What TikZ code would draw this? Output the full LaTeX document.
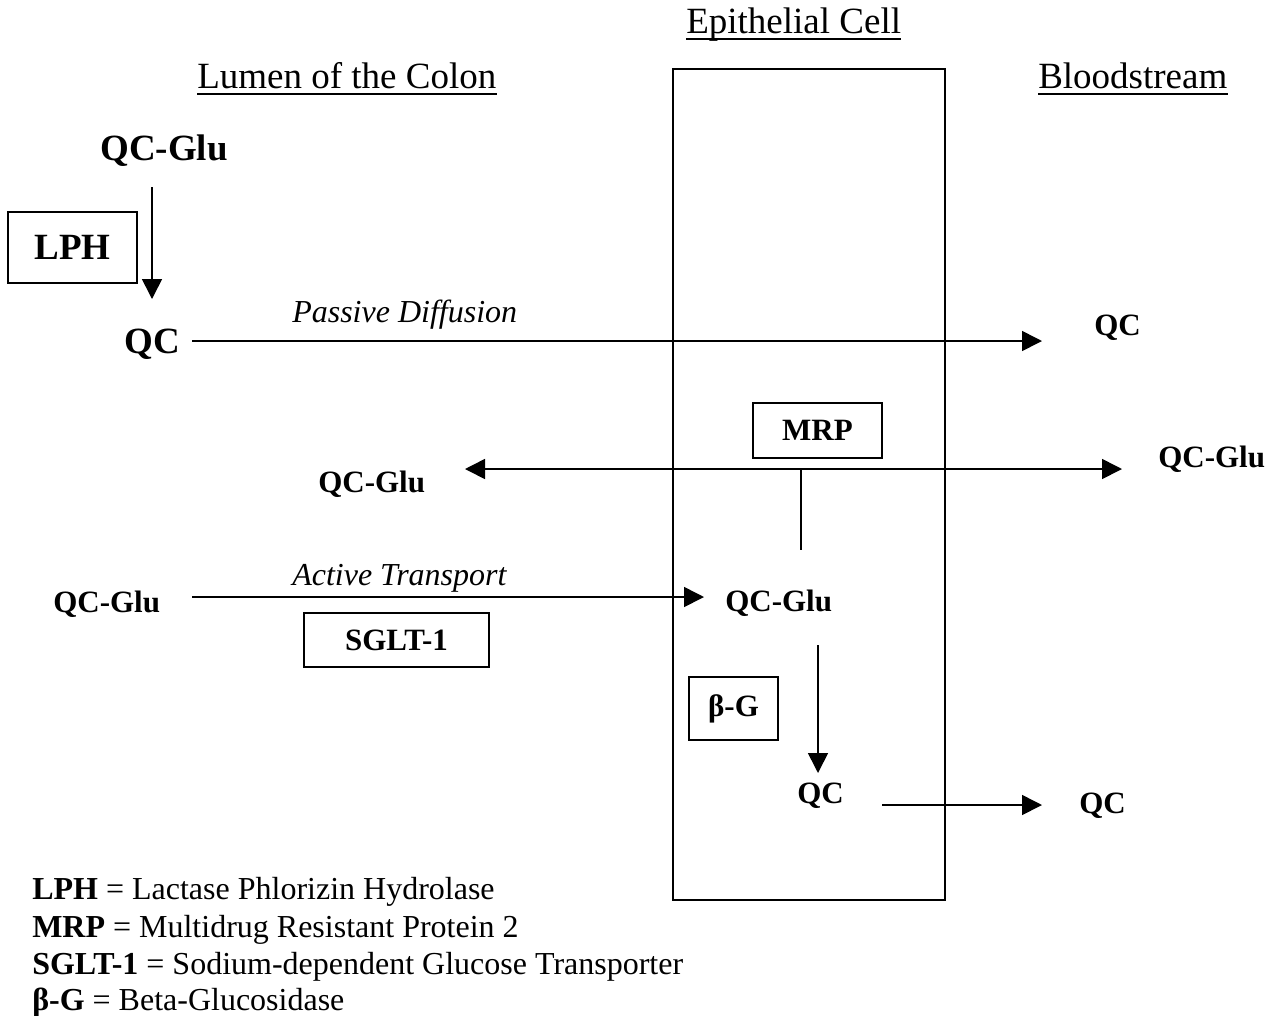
\documentclass[tikz,border=0pt]{standalone}
\usepackage{fontspec}
\setmainfont{Liberation Serif}
\usetikzlibrary{arrows.meta}
\begin{document}
\begin{tikzpicture}[x=0.75pt,y=-0.75pt,
  txt/.style={inner sep=0pt, anchor=base west},
  bigb/.style={txt, font=\fontsize{27.75}{32}\selectfont\bfseries},
  midb/.style={txt, font=\fontsize{23.25}{28}\selectfont\bfseries},
  ital/.style={txt, font=\fontsize{24}{28}\selectfont\itshape},
  ttl/.style={txt, font=\fontsize{27.75}{32}\selectfont},
  leg/.style={txt, font=\fontsize{24}{28}\selectfont},
  boxn/.style={draw, line width=1.3pt, inner sep=0pt},
  conn/.style={line width=1.2pt},
  arr/.style={conn, -{Triangle[width=15pt,length=15pt]}},
  uline/.style={line width=1.5pt}
]
\useasboundingbox (0,0) rectangle (1278,1015);

% cell
\draw[line width=1.6pt] (673,69) rectangle (945,900);

% titles
\node[ttl] (epi) at (686,33) {Epithelial Cell};
\node[ttl] (lumen) at (197,88) {Lumen of the Colon};
\node[ttl] (blood) at (1038,88) {Bloodstream};
\foreach \n in {epi,lumen,blood}
  \draw[uline] ([yshift=-4.5pt]\n.base west) -- ([yshift=-4.5pt]\n.base east);

% LPH pathway
\node[bigb] (qcgluA) at (100,160) {QC-Glu};
\node[boxn, minimum width=96.75pt, minimum height=53.25pt,
      font=\fontsize{27.75}{32}\selectfont\bfseries] (lph) at (72.5,247.5) {LPH\hspace{9pt}};
\node[bigb] (qcA) at (124,353) {QC};
\coordinate (a1s) at (152,187);
\coordinate (a1e) at (152,299);
\draw[arr] (a1s) -- (a1e);

% passive diffusion
\coordinate (pds) at (192,341);
\coordinate (pde) at (1042,341);
\draw[arr] (pds) -- (pde);
\node[ital] (pd) at (292,322) {Passive Diffusion};
\node[midb] (qcB) at (1094,335) {QC};

% MRP efflux
\node[boxn, minimum width=96.75pt, minimum height=41.25pt,
      font=\fontsize{23.25}{28}\selectfont\bfseries] (mrp) at (817.5,430.5) {MRP\hspace{12.75pt}};
\coordinate (mL) at (465,469);
\coordinate (mR) at (1122,469);
\coordinate (mJ) at (801,469);
\coordinate (mD) at (801,550);
\draw[conn, {Triangle[width=15pt,length=15pt]}-{Triangle[width=15pt,length=15pt]}] (mL) -- (mR);
\draw[conn] (mJ) -- (mD);
\node[midb] (qcgluL) at (318,492) {QC-Glu};
\node[midb] (qcgluR) at (1158,467) {QC-Glu};

% active transport
\node[midb] (qcgluB) at (53,612) {QC-Glu};
\coordinate (ats) at (192,597);
\coordinate (ate) at (704,597);
\draw[arr] (ats) -- (ate);
\node[ital] (at) at (292,585) {Active Transport};
\node[boxn, minimum width=138.75pt, minimum height=40.5pt,
      font=\fontsize{23.25}{28}\selectfont\bfseries] (sglt) at (396.5,640) {SGLT-1};
\node[midb] (qcgluC) at (725,611) {QC-Glu};

% beta-G
\coordinate (bs) at (818,645);
\coordinate (be) at (818,773);
\draw[arr] (bs) -- (be);
\node[boxn, minimum width=66.75pt, minimum height=47.25pt,
      font=\fontsize{23.25}{28}\selectfont\bfseries] (bg) at (733.5,708.5) {β-G};
\node[midb] (qcC) at (797,803) {QC};
\coordinate (qs) at (882,805);
\coordinate (qe) at (1042,805);
\draw[arr] (qs) -- (qe);
\node[midb] (qcD) at (1079,813) {QC};

% legend
\node[leg] (leg1) at (32,899) {\textbf{LPH} = Lactase Phlorizin Hydrolase};
\node[leg] (leg2) at (32,937) {\textbf{MRP} = Multidrug Resistant Protein 2};
\node[leg] (leg3) at (32,974) {\textbf{SGLT-1} = Sodium-dependent Glucose Transporter};
\node[leg] (leg4) at (32,1010) {\textbf{β-G} = Beta-Glucosidase};
\end{tikzpicture}
\end{document}
